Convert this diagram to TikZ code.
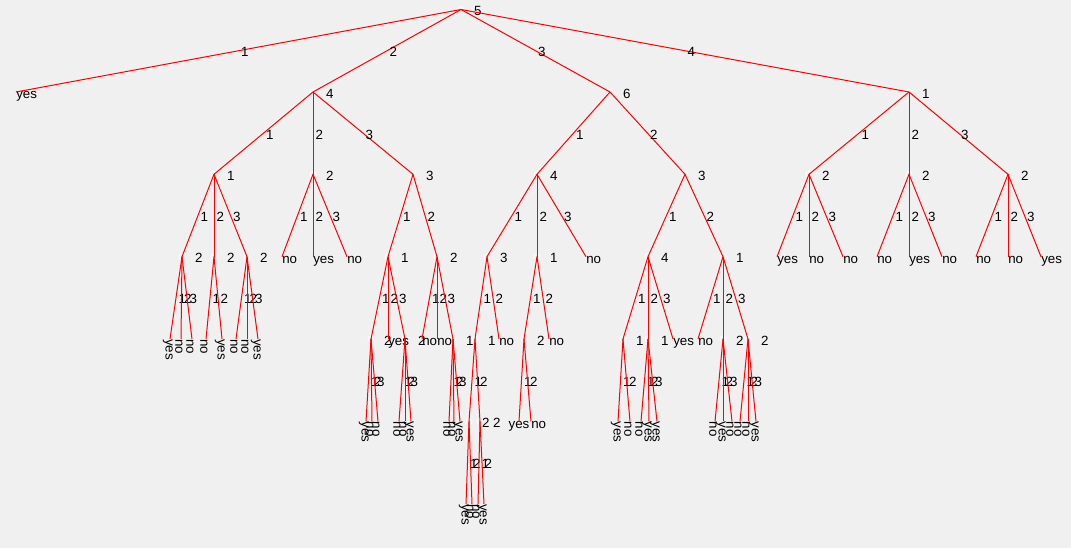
\documentclass[tikz,border=0pt]{standalone}
\usepackage{fontspec}
\setmainfont{Liberation Sans}
\definecolor{panel}{RGB}{240,240,240}
\begin{document}
\begin{tikzpicture}[
  x=0.75pt, y=-0.75pt,
  every node/.style={font=\fontsize{10}{12}\selectfont, text=black},
  edge/.style={draw=red, line width=0.75pt},
  knot/.style={circle, draw=white, line width=0.5pt, minimum size=4.5pt, inner sep=0pt},
  nlab/.style={anchor=base west, inner sep=0pt, xshift=9.6pt, yshift=-4.6pt},
  elab/.style={anchor=base west, inner sep=0pt, xshift=1.6pt, yshift=-4.4pt},
  leafh/.style={anchor=base west, inner sep=0pt, yshift=-5pt},
  leafc/.style={anchor=base, inner sep=0pt, yshift=-5pt},
  leafv/.style={xshift=-1.6pt, rotate=-90, anchor=west, inner sep=0pt},
]
\fill[panel] (0,0) rectangle (1071,548);
\useasboundingbox (0,0) rectangle (1071,548);

% ---------- decision nodes (white ring) and their attribute numbers ----------
\node[knot] (R) at (461,9.5) {};      \node[nlab] (R-t) at (R) {5};
\node[knot] (A) at (313,92) {};       \node[nlab] (A-t) at (A) {4};
\node[knot] (B) at (610,92) {};       \node[nlab] (B-t) at (B) {6};
\node[knot] (C) at (909,92) {};       \node[nlab] (C-t) at (C) {1};

\node[knot] (A1) at (214,174.3) {};   \node[nlab] (A1-t) at (A1) {1};
\node[knot] (A2) at (313,174.3) {};   \node[nlab] (A2-t) at (A2) {2};
\node[knot] (A3) at (413,174.3) {};   \node[nlab] (A3-t) at (A3) {3};
\node[knot] (B1) at (537,174.3) {};   \node[nlab] (B1-t) at (B1) {4};
\node[knot] (B2) at (685,174.3) {};   \node[nlab] (B2-t) at (B2) {3};
\node[knot] (C1) at (809,174.3) {};   \node[nlab] (C1-t) at (C1) {2};
\node[knot] (C2) at (909,174.3) {};   \node[nlab] (C2-t) at (C2) {2};
\node[knot] (C3) at (1008,174.3) {};  \node[nlab] (C3-t) at (C3) {2};

\node[knot] (A11) at (182,256.7) {};  \node[nlab] (A11-t) at (A11) {2};
\node[knot] (A12) at (214,256.7) {};  \node[nlab] (A12-t) at (A12) {2};
\node[knot] (A13) at (247,256.7) {};  \node[nlab] (A13-t) at (A13) {2};
\node[knot] (A31) at (388,256.7) {};  \node[nlab] (A31-t) at (A31) {1};
\node[knot] (A32) at (437,256.7) {};  \node[nlab] (A32-t) at (A32) {2};
\node[knot] (B11) at (487,256.7) {};  \node[nlab] (B11-t) at (B11) {3};
\node[knot] (B12) at (537,256.7) {};  \node[nlab] (B12-t) at (B12) {1};
\node[knot] (B21) at (648,256.7) {};  \node[nlab] (B21-t) at (B21) {4};
\node[knot] (B22) at (723,256.7) {};  \node[nlab] (B22-t) at (B22) {1};

\node[knot] (A311) at (371,339) {};   \node[nlab] (A311-t) at (A311) {2};
\node[knot] (A313) at (405,339) {};   \node[nlab] (A313-t) at (A313) {2};
\node[knot] (A323) at (453,339) {};   \node[nlab] (A323-t) at (A323) {1};
\node[knot] (B111) at (475,339) {};   \node[nlab] (B111-t) at (B111) {1};
\node[knot] (B121) at (524,339) {};   \node[nlab] (B121-t) at (B121) {2};
\node[knot] (B211) at (623,339) {};   \node[nlab] (B211-t) at (B211) {1};
\node[knot] (B212) at (648,339) {};   \node[nlab] (B212-t) at (B212) {1};
\node[knot] (B222) at (723,339) {};   \node[nlab] (B222-t) at (B222) {2};
\node[knot] (B223) at (748,339) {};   \node[nlab] (B223-t) at (B223) {2};

\node[knot] (B1111) at (469,421.5) {}; \node[nlab] (B1111-t) at (B1111) {2};
\node[knot] (B1112) at (480,421.5) {}; \node[nlab] (B1112-t) at (B1112) {2};

% ---------- leaf ends and their class labels ----------
\coordinate (y1) at (16,92);      \node[leafh] (y1-t) at (y1) {yes};

\coordinate (a2a) at (282,256.7); \node[leafh] (a2a-t) at (a2a) {no};
\coordinate (a2b) at (313,256.7); \node[leafh] (a2b-t) at (a2b) {yes};
\coordinate (a2c) at (347,256.7); \node[leafh] (a2c-t) at (a2c) {no};

\coordinate (a11a) at (170,339);  \node[leafv] (a11a-t) at (a11a) {yes};
\coordinate (a11b) at (181,339);  \node[leafv] (a11b-t) at (a11b) {no};
\coordinate (a11c) at (192,339);  \node[leafv] (a11c-t) at (a11c) {no};
\coordinate (a12a) at (206,339);  \node[leafv] (a12a-t) at (a12a) {no};
\coordinate (a12b) at (222,339);  \node[leafv] (a12b-t) at (a12b) {yes};
\coordinate (a13a) at (236,339);  \node[leafv] (a13a-t) at (a13a) {no};
\coordinate (a13b) at (247,339);  \node[leafv] (a13b-t) at (a13b) {no};
\coordinate (a13c) at (258,339);  \node[leafv] (a13c-t) at (a13c) {yes};

\coordinate (a31b) at (388,339);  \node[leafh] (a31b-t) at (a31b) {yes};
\coordinate (a311a) at (366,421.5); \node[leafv] (a311a-t) at (a311a) {yes};
\coordinate (a311b) at (372,421.5); \node[leafv] (a311b-t) at (a311b) {no};
\coordinate (a311c) at (378,421.5); \node[leafv] (a311c-t) at (a311c) {no};
\coordinate (a313a) at (399,421.5); \node[leafv] (a313a-t) at (a313a) {no};
\coordinate (a313b) at (405,421.5); \node[leafv] (a313b-t) at (a313b) {no};
\coordinate (a313c) at (411,421.5); \node[leafv] (a313c-t) at (a313c) {yes};

\coordinate (a32a) at (422,339);  \node[leafh] (a32a-t) at (a32a) {no};
\coordinate (a32b) at (437,339);  \node[leafh] (a32b-t) at (a32b) {no};
\coordinate (a323a) at (449,421.5); \node[leafv] (a323a-t) at (a323a) {no};
\coordinate (a323b) at (454,421.5); \node[leafv] (a323b-t) at (a323b) {no};
\coordinate (a323c) at (460,421.5); \node[leafv] (a323c-t) at (a323c) {yes};

\coordinate (b1c) at (586,256.7); \node[leafh] (b1c-t) at (b1c) {no};
\coordinate (b11b) at (499,339);  \node[leafh] (b11b-t) at (b11b) {no};
\coordinate (b1111a) at (466,504); \node[leafv] (b1111a-t) at (b1111a) {yes};
\coordinate (b1111b) at (472,504); \node[leafv] (b1111b-t) at (b1111b) {no};
\coordinate (b1112a) at (478,504); \node[leafv] (b1112a-t) at (b1112a) {no};
\coordinate (b1112b) at (484,504); \node[leafv] (b1112b-t) at (b1112b) {yes};

\coordinate (b12b) at (549,339);  \node[leafh] (b12b-t) at (b12b) {no};
\coordinate (b121a) at (519,421.5); \node[leafc] (b121a-t) at (b121a) {yes};
\coordinate (b121b) at (531,421.5); \node[leafh] (b121b-t) at (b121b) {no};

\coordinate (b21c) at (673,339);  \node[leafh] (b21c-t) at (b21c) {yes};
\coordinate (b211a) at (618,421.5); \node[leafv] (b211a-t) at (b211a) {yes};
\coordinate (b211b) at (630,421.5); \node[leafv] (b211b-t) at (b211b) {no};
\coordinate (b212a) at (641,421.5); \node[leafv] (b212a-t) at (b212a) {no};
\coordinate (b212b) at (649,421.5); \node[leafv] (b212b-t) at (b212b) {yes};
\coordinate (b212c) at (657,421.5); \node[leafv] (b212c-t) at (b212c) {yes};

\coordinate (b22a) at (698,339);  \node[leafh] (b22a-t) at (b22a) {no};
\coordinate (b222a) at (715,421.5); \node[leafv] (b222a-t) at (b222a) {no};
\coordinate (b222b) at (723,421.5); \node[leafv] (b222b-t) at (b222b) {yes};
\coordinate (b222c) at (732,421.5); \node[leafv] (b222c-t) at (b222c) {no};
\coordinate (b223a) at (740,421.5); \node[leafv] (b223a-t) at (b223a) {no};
\coordinate (b223b) at (748,421.5); \node[leafv] (b223b-t) at (b223b) {no};
\coordinate (b223c) at (756,421.5); \node[leafv] (b223c-t) at (b223c) {yes};

\coordinate (c1a) at (777,256.7);  \node[leafh] (c1a-t) at (c1a) {yes};
\coordinate (c1b) at (809,256.7);  \node[leafh] (c1b-t) at (c1b) {no};
\coordinate (c1c) at (843,256.7);  \node[leafh] (c1c-t) at (c1c) {no};
\coordinate (c2a) at (877,256.7);  \node[leafh] (c2a-t) at (c2a) {no};
\coordinate (c2b) at (909,256.7);  \node[leafh] (c2b-t) at (c2b) {yes};
\coordinate (c2c) at (942,256.7);  \node[leafh] (c2c-t) at (c2c) {no};
\coordinate (c3a) at (976,256.7);  \node[leafh] (c3a-t) at (c3a) {no};
\coordinate (c3b) at (1008,256.7); \node[leafh] (c3b-t) at (c3b) {no};
\coordinate (c3c) at (1041,256.7); \node[leafh] (c3c-t) at (c3c) {yes};

% ---------- branches, numbered by attribute value ----------
\draw[edge] (R.center) -- node[elab]{1} (y1);
\draw[edge] (R.center) -- node[elab]{2} (A.center);
\draw[edge] (R.center) -- node[elab]{3} (B.center);
\draw[edge] (R.center) -- node[elab]{4} (C.center);

\draw[edge] (A.center) -- node[elab]{1} (A1.center);
\draw[edge] (A.center) -- node[elab]{2} (A2.center);
\draw[edge] (A.center) -- node[elab]{3} (A3.center);

\draw[edge] (A1.center) -- node[elab]{1} (A11.center);
\draw[edge] (A1.center) -- node[elab]{2} (A12.center);
\draw[edge] (A1.center) -- node[elab]{3} (A13.center);

\draw[edge] (A11.center) -- node[elab]{1} (a11a);
\draw[edge] (A11.center) -- node[elab]{2} (a11b);
\draw[edge] (A11.center) -- node[elab]{3} (a11c);
\draw[edge] (A12.center) -- node[elab]{1} (a12a);
\draw[edge] (A12.center) -- node[elab]{2} (a12b);
\draw[edge] (A13.center) -- node[elab]{1} (a13a);
\draw[edge] (A13.center) -- node[elab]{2} (a13b);
\draw[edge] (A13.center) -- node[elab]{3} (a13c);

\draw[edge] (A2.center) -- node[elab]{1} (a2a);
\draw[edge] (A2.center) -- node[elab]{2} (a2b);
\draw[edge] (A2.center) -- node[elab]{3} (a2c);

\draw[edge] (A3.center) -- node[elab]{1} (A31.center);
\draw[edge] (A3.center) -- node[elab]{2} (A32.center);

\draw[edge] (A31.center) -- node[elab]{1} (A311.center);
\draw[edge] (A31.center) -- node[elab]{2} (a31b);
\draw[edge] (A31.center) -- node[elab]{3} (A313.center);
\draw[edge] (A311.center) -- node[elab]{1} (a311a);
\draw[edge] (A311.center) -- node[elab]{2} (a311b);
\draw[edge] (A311.center) -- node[elab]{3} (a311c);
\draw[edge] (A313.center) -- node[elab]{1} (a313a);
\draw[edge] (A313.center) -- node[elab]{2} (a313b);
\draw[edge] (A313.center) -- node[elab]{3} (a313c);

\draw[edge] (A32.center) -- node[elab]{1} (a32a);
\draw[edge] (A32.center) -- node[elab]{2} (a32b);
\draw[edge] (A32.center) -- node[elab]{3} (A323.center);
\draw[edge] (A323.center) -- node[elab]{1} (a323a);
\draw[edge] (A323.center) -- node[elab]{2} (a323b);
\draw[edge] (A323.center) -- node[elab]{3} (a323c);

\draw[edge] (B.center) -- node[elab]{1} (B1.center);
\draw[edge] (B.center) -- node[elab]{2} (B2.center);

\draw[edge] (B1.center) -- node[elab]{1} (B11.center);
\draw[edge] (B1.center) -- node[elab]{2} (B12.center);
\draw[edge] (B1.center) -- node[elab]{3} (b1c);

\draw[edge] (B11.center) -- node[elab]{1} (B111.center);
\draw[edge] (B11.center) -- node[elab]{2} (b11b);
\draw[edge] (B111.center) -- node[elab]{1} (B1111.center);
\draw[edge] (B111.center) -- node[elab]{2} (B1112.center);
\draw[edge] (B1111.center) -- node[elab]{1} (b1111a);
\draw[edge] (B1111.center) -- node[elab]{2} (b1111b);
\draw[edge] (B1112.center) -- node[elab]{1} (b1112a);
\draw[edge] (B1112.center) -- node[elab]{2} (b1112b);

\draw[edge] (B12.center) -- node[elab]{1} (B121.center);
\draw[edge] (B12.center) -- node[elab]{2} (b12b);
\draw[edge] (B121.center) -- node[elab]{1} (b121a);
\draw[edge] (B121.center) -- node[elab]{2} (b121b);

\draw[edge] (B2.center) -- node[elab]{1} (B21.center);
\draw[edge] (B2.center) -- node[elab]{2} (B22.center);

\draw[edge] (B21.center) -- node[elab]{1} (B211.center);
\draw[edge] (B21.center) -- node[elab]{2} (B212.center);
\draw[edge] (B21.center) -- node[elab]{3} (b21c);
\draw[edge] (B211.center) -- node[elab]{1} (b211a);
\draw[edge] (B211.center) -- node[elab]{2} (b211b);
\draw[edge] (B212.center) -- node[elab]{1} (b212a);
\draw[edge] (B212.center) -- node[elab]{2} (b212b);
\draw[edge] (B212.center) -- node[elab]{3} (b212c);

\draw[edge] (B22.center) -- node[elab]{1} (b22a);
\draw[edge] (B22.center) -- node[elab]{2} (B222.center);
\draw[edge] (B22.center) -- node[elab]{3} (B223.center);
\draw[edge] (B222.center) -- node[elab]{1} (b222a);
\draw[edge] (B222.center) -- node[elab]{2} (b222b);
\draw[edge] (B222.center) -- node[elab]{3} (b222c);
\draw[edge] (B223.center) -- node[elab]{1} (b223a);
\draw[edge] (B223.center) -- node[elab]{2} (b223b);
\draw[edge] (B223.center) -- node[elab]{3} (b223c);

\draw[edge] (C.center) -- node[elab]{1} (C1.center);
\draw[edge] (C.center) -- node[elab]{2} (C2.center);
\draw[edge] (C.center) -- node[elab]{3} (C3.center);

\draw[edge] (C1.center) -- node[elab]{1} (c1a);
\draw[edge] (C1.center) -- node[elab]{2} (c1b);
\draw[edge] (C1.center) -- node[elab]{3} (c1c);
\draw[edge] (C2.center) -- node[elab]{1} (c2a);
\draw[edge] (C2.center) -- node[elab]{2} (c2b);
\draw[edge] (C2.center) -- node[elab]{3} (c2c);
\draw[edge] (C3.center) -- node[elab]{1} (c3a);
\draw[edge] (C3.center) -- node[elab]{2} (c3b);
\draw[edge] (C3.center) -- node[elab]{3} (c3c);
\end{tikzpicture}
\end{document}
